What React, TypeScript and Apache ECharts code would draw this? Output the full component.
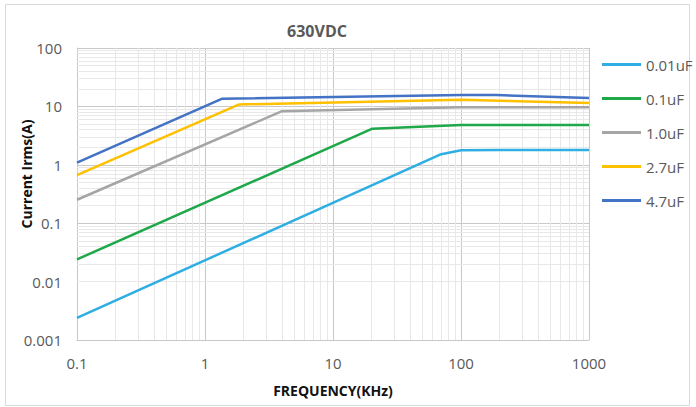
import React, { useEffect, useRef } from "react";
import * as echarts from "echarts";

const seriesNames = ["0.01uF", "0.1uF", "1.0uF", "2.7uF", "4.7uF"];
const seriesColors = ["#2eaee3", "#1ea84a", "#a5a5a5", "#ffc000", "#4472c4"];

// [frequency kHz, current A]
const cap001: [number, number][] = [[0.1, 0.0024], [70, 1.52], [100, 1.77], [200, 1.8], [1000, 1.8]];
const cap01: [number, number][] = [[0.1, 0.024], [20.3, 4.15], [100, 4.8], [1000, 4.8]];
const cap1: [number, number][] = [[0.1, 0.252], [4, 8.3], [100, 9.7], [1000, 9.7]];
const cap27: [number, number][] = [[0.1, 0.667], [1.85, 10.8], [100, 13.0], [1000, 11.4]];
const cap47: [number, number][] = [[0.1, 1.09], [1.35, 13.5], [100, 15.6], [190, 15.6], [1000, 13.9]];

const seriesData = [cap001, cap01, cap1, cap27, cap47];

const xDecades = [0.1, 1, 10, 100];
const yDecades = [0.001, 0.01, 0.1, 1, 10];
const minorMultiples = [2, 3, 4, 5, 6, 7, 8, 9];

const FONT = "'Open Sans', 'Noto Sans', sans-serif";

export default function App() {
  const ref = useRef<HTMLDivElement>(null);
  useEffect(() => {
    if (!ref.current) return;
    const chart = echarts.init(ref.current, undefined, { renderer: "svg" });
    const xMinor: number[] = [];
    xDecades.forEach((d) => minorMultiples.forEach((m) => xMinor.push(+(d * m).toPrecision(3))));
    const yMinor: number[] = [];
    yDecades.forEach((d) => minorMultiples.forEach((m) => yMinor.push(+(d * m).toPrecision(3))));

    const fmt = (v: number) => String(+Number(v).toPrecision(3));

    chart.setOption({
      animation: false,
      backgroundColor: "#ffffff",
      textStyle: { fontFamily: FONT },
      grid: { left: 77, top: 48, width: 512, height: 292, containLabel: false },
      xAxis: {
        type: "log",
        logBase: 10,
        min: 0.1,
        max: 1000,
        axisLine: { show: true, lineStyle: { color: "#c8c8c8", width: 1 } },
        axisTick: { show: false },
        axisLabel: { color: "#595959", fontSize: 15, margin: 15, formatter: fmt, fontFamily: FONT },
        splitLine: { show: true, lineStyle: { color: "#c8c8c8", width: 1 } },
      },
      yAxis: {
        type: "log",
        logBase: 10,
        min: 0.001,
        max: 100,
        axisLine: { show: true, lineStyle: { color: "#c8c8c8", width: 1 } },
        axisTick: { show: false },
        axisLabel: { color: "#595959", fontSize: 15, margin: 15, formatter: fmt, fontFamily: FONT },
        splitLine: { show: true, lineStyle: { color: "#c8c8c8", width: 1 } },
      },
      legend: {
        orient: "vertical",
        left: 597,
        top: 52,
        icon: "rect",
        itemWidth: 39,
        itemHeight: 3,
        itemGap: 19,
        data: seriesNames,
        textStyle: { color: "#595959", fontSize: 15, fontFamily: FONT, lineHeight: 14, height: 14 },
      },
      graphic: [
        {
          type: "rect",
          shape: { x: 5.5, y: 4.5, width: 684, height: 401 },
          style: { fill: "none", stroke: "#d9d9d9", lineWidth: 1 },
          silent: true,
          z: -10,
        },
        {
          type: "text",
          x: 317,
          y: 31,
          style: {
            text: "630VDC",
            fill: "#595959",
            font: `bold 16px ${FONT}`,
            textAlign: "center",
            textVerticalAlign: "middle",
          },
        },
        {
          type: "text",
          x: 333,
          y: 390,
          style: {
            text: "FREQUENCY(KHz)",
            fill: "#111111",
            font: `bold 14px ${FONT}`,
            textAlign: "center",
            textVerticalAlign: "middle",
          },
        },
        {
          type: "text",
          x: 26,
          y: 174,
          rotation: Math.PI / 2,
          style: {
            text: "Current Irms(A)",
            fill: "#111111",
            font: `bold 14px ${FONT}`,
            textAlign: "center",
            textVerticalAlign: "middle",
          },
        },
      ],
      series: [
        {
          type: "line",
          name: "minor-grid",
          data: [],
          silent: true,
          z: 1,
          markLine: {
            silent: true,
            symbol: "none",
            animation: false,
            z: 1,
            label: { show: false },
            lineStyle: { color: "#e8e8e8", width: 1, type: "solid" },
            emphasis: { disabled: true },
            data: [
              ...xMinor.map((v) => ({ xAxis: v })),
              ...yMinor.map((v) => ({ yAxis: v })),
            ],
          },
        },
        ...seriesNames.map((name, i) => ({
          type: "line",
          name,
          data: seriesData[i],
          symbol: "none",
          showSymbol: false,
          z: 3,
          color: seriesColors[i],
          lineStyle: { color: seriesColors[i], width: 2.5 },
        })),
      ],
    });
    return () => chart.dispose();
  }, []);
  return (
    <div
      ref={ref}
      style={{ position: "absolute", left: 0, top: 0, width: 696, height: 407 }}
    />
  );
}
